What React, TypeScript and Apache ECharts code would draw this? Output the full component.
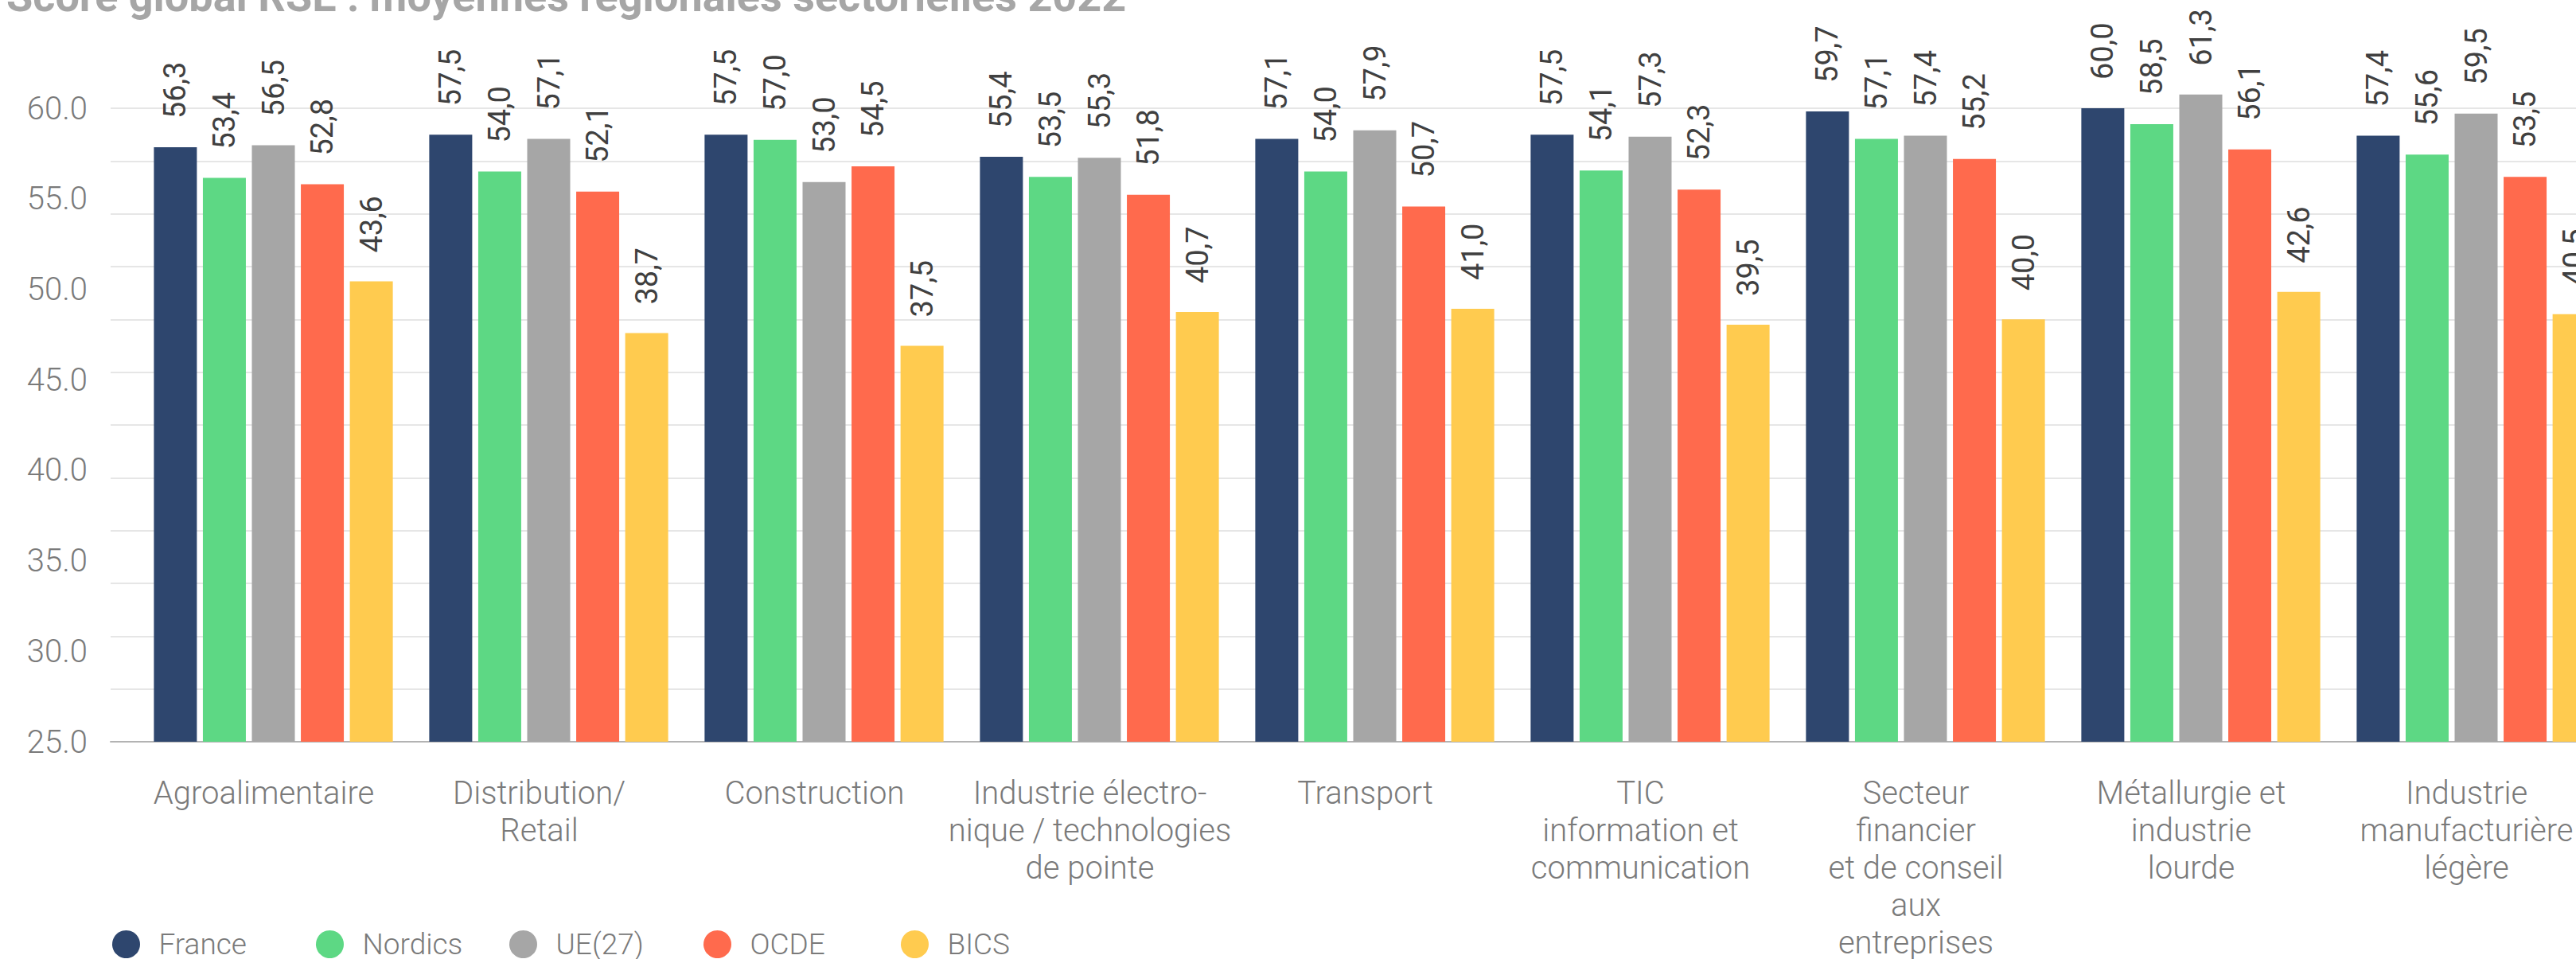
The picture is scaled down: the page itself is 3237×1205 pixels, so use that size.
import React, { useEffect, useRef } from "react";
import * as echarts from "echarts";

const categories = [
  "Agroalimentaire",
  "Distribution/\nRetail",
  "Construction",
  "Industrie électro-\nnique / technologies\nde pointe",
  "Transport",
  "TIC\ninformation et\ncommunication",
  "Secteur\nfinancier\net de conseil\naux\nentreprises",
  "Métallurgie et\nindustrie\nlourde",
  "Industrie\nmanufacturière\nlégère",
];

const seriesNames = ["France", "Nordics", "UE(27)", "OCDE", "BICS"];

const france = [56.3, 57.5, 57.5, 55.4, 57.1, 57.5, 59.7, 60.0, 57.4];
const nordics = [53.4, 54.0, 57.0, 53.5, 54.0, 54.1, 57.1, 58.5, 55.6];
const ue27 = [56.5, 57.1, 53.0, 55.3, 57.9, 57.3, 57.4, 61.3, 59.5];
const ocde = [52.8, 52.1, 54.5, 51.8, 50.7, 52.3, 55.2, 56.1, 53.5];
const bics = [43.6, 38.7, 37.5, 40.7, 41.0, 39.5, 40.0, 42.6, 40.5];

const seriesData = [france, nordics, ue27, ocde, bics];
const colors = ["#2E466E", "#5DD884", "#A6A6A6", "#FF6A4D", "#FFCB4F"];

// Displayed tick labels (25.0 ... 60.0) on their own axis
const tickLabelMin = 25;
const tickLabelMax = 60;
const tickLabelStep = 5;

// Value axis of the bars
const valueMin = 0;
const valueMax = 60;
const valueStep = 5;

const title = "Score global RSE : moyennes régionales sectorielles 2022";

const legendCenters = [177, 433, 676, 920, 1168];

export default function App() {
  const ref = useRef<HTMLDivElement>(null);

  useEffect(() => {
    if (!ref.current) return;
    const chart = echarts.init(ref.current, undefined, { renderer: "svg" });
    const font = "Roboto";
    const option: any = {
      animation: false,
      backgroundColor: "#ffffff",
      graphic: [
        {
          type: "text",
          x: 8,
          y: -5,
          style: {
            text: title,
            font: "bold 54px Roboto",
            fill: "#a6a6a6",
            verticalAlign: "middle",
          },
        },
      ],
      grid: [
        { left: 139, right: 0, top: 136, bottom: 273, outerBoundsMode: "none", containLabel: false },
        { left: 170.5, width: 3114, top: 136, bottom: 273, outerBoundsMode: "none", containLabel: false },
      ],
      xAxis: [
        {
          gridIndex: 0,
          type: "value",
          min: 0,
          max: 1,
          axisLine: { show: true, onZero: false, lineStyle: { color: "#b3b3b3", width: 2 } },
          axisTick: { show: false },
          axisLabel: { show: false },
          splitLine: { show: false },
        },
        {
          gridIndex: 1,
          type: "category",
          data: categories,
          axisLine: { show: false },
          axisTick: { show: false },
          axisLabel: {
            interval: 0,
            color: "#7a7a7a",
            fontFamily: font,
            fontWeight: 300,
            fontSize: 40,
            lineHeight: 47,
            margin: 41,
            padding: [0, 24, 0, 0],
          },
        },
      ],
      yAxis: [
        {
          gridIndex: 0,
          type: "value",
          min: valueMin,
          max: valueMax,
          interval: valueStep,
          axisLine: { show: false },
          axisTick: { show: false },
          axisLabel: { show: false },
          splitLine: { show: true, lineStyle: { color: "#e6e6e6", width: 2 } },
        },
        {
          gridIndex: 0,
          type: "value",
          position: "left",
          min: tickLabelMin,
          max: tickLabelMax,
          interval: tickLabelStep,
          axisLine: { show: false },
          axisTick: { show: false },
          splitLine: { show: false },
          axisLabel: {
            formatter: (v: number) => v.toFixed(1),
            color: "#7a7a7a",
            fontFamily: font,
            fontWeight: 300,
            fontSize: 40,
            margin: 29,
          },
        },
        {
          gridIndex: 1,
          type: "value",
          min: valueMin,
          max: valueMax,
          show: false,
          splitLine: { show: false },
        },
      ],
      legend: seriesNames.map((n, i) => ({
        data: [{ name: n, icon: "circle" }],
        left: legendCenters[i] - 36,
        top: 1168,
        itemWidth: 72,
        itemHeight: 35,
        selectedMode: false,
        padding: 0,
        textStyle: {
          color: "#7a7a7a",
          fontFamily: font,
          fontWeight: 300,
          fontSize: 37,
          padding: [10, 0, 0, 0],
        },
      })),
      series: seriesNames.map((n, i) => ({
        name: n,
        type: "bar",
        xAxisIndex: 1,
        yAxisIndex: 2,
        data: seriesData[i],
        barWidth: 54,
        barGap: "14%",
        clip: false,
        itemStyle: { color: colors[i] },
        label: {
          show: true,
          position: "top",
          rotate: 90,
          align: "left",
          verticalAlign: "middle",
          distance: 36,
          formatter: (p: any) => Number(p.value).toFixed(1).replace(".", ","),
          color: "#404040",
          fontFamily: font,
          fontSize: 38,
        },
      })),
    };
    chart.setOption(option);
    return () => chart.dispose();
  }, []);

  return (
    <div
      style={{
        position: "fixed",
        top: 0,
        left: 0,
        width: 3237,
        height: 1205,
        overflow: "hidden",
        background: "#fff",
      }}
    >
      <div ref={ref} style={{ width: 3300, height: 1205 }} />
    </div>
  );
}
